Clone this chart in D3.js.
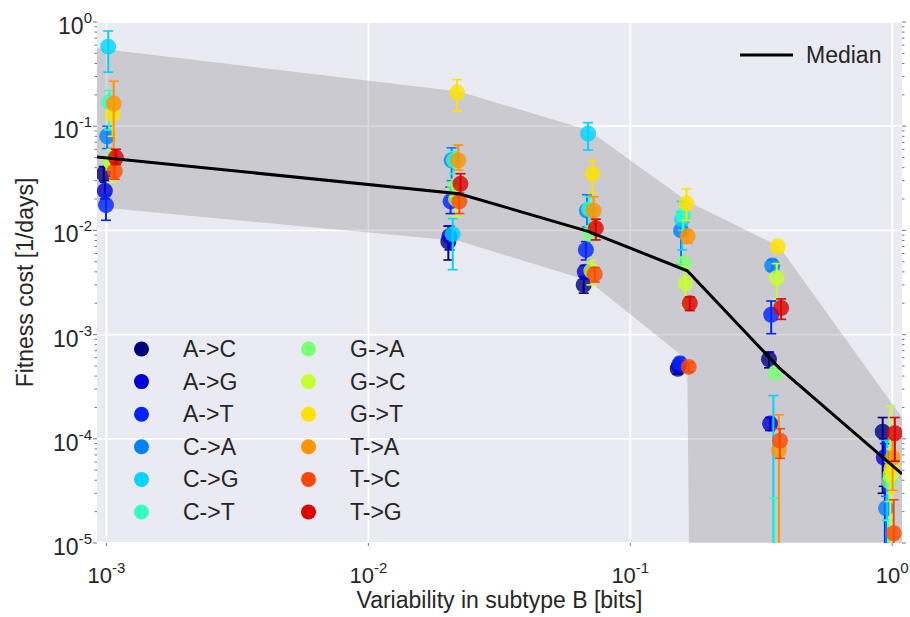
<!DOCTYPE html>
<html>
<head>
<meta charset="utf-8">
<script src="https://cdn.jsdelivr.net/npm/d3@7"></script>
<style>
  html, body { margin: 0; padding: 0; background: #fff; }
  svg text { font-family: "Liberation Sans", Arial, sans-serif; fill: #262626; }
</style>
</head>
<body>
<div id="chart"></div>
<script>
// Fitness cost vs variability, by mutation type (log-log)
const mutTypes = ['A->C', 'A->G', 'A->T', 'C->A', 'C->G', 'C->T',
                  'G->A', 'G->C', 'G->T', 'T->A', 'T->C', 'T->G'];
const mutColors = ['#000080', '#0000d5', '#0024ff', '#0080ff', '#00d4ff', '#33ffc4',
                   '#7cff79', '#c4ff33', '#ffe200', '#ff9400', '#ff4700', '#dd0000'];

// variability bins (x) for the points
const binX = [0.00103, 0.0213, 0.070, 0.160, 0.357, 0.97];

// mean fitness cost per mutation type, one value per bin
const costMean = [
  [0.035, 0.0078, 0.0030, 0.00047, 0.00058, 0.000117],
  [0.024, 0.0088, 0.0040, 0.00050, 0.00014, 0.000066],
  [0.0175, 0.019, 0.0065, 0.00053, 0.00155, 0.000007],
  [0.080, 0.047, 0.0155, 0.0100, 0.0046, 0.0000215],
  [0.58, 0.0092, 0.085, 0.0128, 0.000005, 0.000005],
  [0.17, 0.047, 0.016, 0.014, 0.000003, 0.000004],
  [0.046, 0.026, 0.0092, 0.0048, 0.00043, 0.000039],
  [0.044, 0.020, 0.0041, 0.0031, 0.0035, 0.000045],
  [0.13, 0.21, 0.035, 0.0182, 0.0070, 0.000052],
  [0.165, 0.047, 0.0155, 0.0088, 0.000078, 0.000066],
  [0.037, 0.019, 0.0038, 0.00049, 0.000096, 0.0000124],
  [0.050, 0.028, 0.0105, 0.0020, 0.0018, 0.000113]
];
const costLow = [
  [0.030, 0.0052, 0.0025, 0.00042, 0.00048, 0.000030],
  [0.020, 0.0065, 0.0034, 0.00045, 0.00012, 0.000035],
  [0.0125, 0.0145, 0.0052, 0.00047, 0.00102, 0],
  [0.061, 0.030, 0.0108, 0.0047, 0.0041, 0],
  [0.33, 0.0042, 0.059, 0.0065, 0, 0.0000165],
  [0.092, 0.035, 0.011, 0.010, 0, 0],
  [0.038, 0.021, 0.0080, 0.0042, 0.00039, 0.000025],
  [0.029, 0.0135, 0.0030, 0.0018, 0.0022, 0],
  [0.08, 0.14, 0.0226, 0.0125, 0.0064, 0.000030],
  [0.032, 0.038, 0.0108, 0.0075, 0, 0.000032],
  [0.031, 0.0145, 0.0032, 0.00044, 0.000065, 0],
  [0.043, 0.022, 0.0081, 0.0017, 0.0014, 0.000061]
];
const costHigh = [
  [0.041, 0.011, 0.0036, 0.00052, 0.00068, 0.00016],
  [0.029, 0.011, 0.0046, 0.00056, 0.00016, 0.000100],
  [0.022, 0.026, 0.0078, 0.00060, 0.0021, 0.000090],
  [0.10, 0.062, 0.022, 0.015, 0.0052, 0.000028],
  [0.82, 0.013, 0.108, 0.019, 0.00026, 0.000096],
  [0.22, 0.057, 0.021, 0.018, 0.000027, 0.0000165],
  [0.056, 0.031, 0.011, 0.0055, 0.00048, 0.00006],
  [0.060, 0.026, 0.0052, 0.0045, 0.0048, 0.000205],
  [0.175, 0.28, 0.047, 0.025, 0.0076, 0.00008],
  [0.27, 0.066, 0.021, 0.010, 0.00017, 0.000101],
  [0.045, 0.023, 0.0044, 0.00054, 0.000125, 0.000026],
  [0.060, 0.035, 0.0128, 0.0023, 0.0022, 0.00016]
];

// median and range band
const bandX = [0.00092, 0.0222, 0.069, 0.165, 0.37, 1.09];
const bandLow = [0.0168, 0.0079, 0.0033, 0.00057, 0, 0];
const bandHigh = [0.56, 0.215, 0.092, 0.019, 0.0070, 0.00016];
const medianY = [0.0507, 0.0225, 0.0098, 0.0041, 0.00048, 0.000046];

const xTicks = [1e-3, 1e-2, 1e-1, 1e0];
const yTicks = [1e0, 1e-1, 1e-2, 1e-3, 1e-4, 1e-5];

const W = 910, H = 617;
const margin = {top: 22, right: 8, bottom: 74, left: 97};
const width = W - margin.left - margin.right;
const height = H - margin.top - margin.bottom;

const svg = d3.select('#chart').append('svg')
  .attr('width', W)
  .attr('height', H);

const g = svg.append('g')
  .attr('transform', `translate(${margin.left},${margin.top})`);

const x = d3.scaleLog().domain([0.00092, 1.09]).range([0, width]);
const y = d3.scaleLog().domain([1e-5, 1e0]).range([height, 0]);
const floor = v => Math.max(v, 1e-100);

g.append('defs').append('clipPath').attr('id', 'clip')
  .append('rect').attr('width', width).attr('height', height);

// background
g.append('rect')
  .attr('width', width)
  .attr('height', height)
  .attr('fill', '#eaeaf2');

// grid lines
g.append('g')
  .selectAll('line.gx')
  .data(xTicks)
  .enter().append('line')
  .attr('x1', d => x(d)).attr('x2', d => x(d))
  .attr('y1', 0).attr('y2', height)
  .attr('stroke', '#fff').attr('stroke-width', 1.8);
g.append('g')
  .selectAll('line.gy')
  .data(yTicks)
  .enter().append('line')
  .attr('y1', d => y(d)).attr('y2', d => y(d))
  .attr('x1', 0).attr('x2', width)
  .attr('stroke', '#fff').attr('stroke-width', 1.8);

const plot = g.append('g').attr('clip-path', 'url(#clip)');

// band between low and high
const bandData = bandX.map((bx, i) => ({x: bx, lo: bandLow[i], hi: bandHigh[i]}));
plot.append('path')
  .datum(bandData)
  .attr('fill', '#808080')
  .attr('fill-opacity', 0.3)
  .attr('d', d3.area()
    .x(d => x(d.x))
    .y0(d => y(floor(d.lo)))
    .y1(d => y(d.hi)));

// points with error bars
mutTypes.forEach((name, i) => {
  const col = mutColors[i];
  const shift = Math.pow(10, (i - 5.5) * 0.0042);
  const pts = binX.map((bx, j) => ({
    x: bx * shift,
    v: costMean[i][j],
    lo: costLow[i][j],
    hi: costHigh[i][j]
  }));
  const grp = plot.append('g');
  pts.forEach(p => {
    const px = x(p.x);
    grp.append('line')
      .attr('x1', px).attr('x2', px)
      .attr('y1', y(floor(p.lo))).attr('y2', y(p.hi))
      .attr('stroke', col).attr('stroke-width', 2);
    [p.lo, p.hi].forEach(c => {
      grp.append('line')
        .attr('x1', px - 5).attr('x2', px + 5)
        .attr('y1', y(floor(c))).attr('y2', y(floor(c)))
        .attr('stroke', col).attr('stroke-width', 1.6);
    });
  });
  grp.selectAll('circle')
    .data(pts)
    .enter().append('circle')
    .attr('cx', d => x(d.x))
    .attr('cy', d => y(d.v))
    .attr('r', 8)
    .attr('fill', col)
    .attr('fill-opacity', 0.8);
});

// median line
plot.append('path')
  .datum(bandX.map((bx, i) => ({x: bx, y: medianY[i]})))
  .attr('fill', 'none')
  .attr('stroke', '#000')
  .attr('stroke-width', 3)
  .attr('d', d3.line().x(d => x(d.x)).y(d => y(d.y)));

// minor ticks on left/right, major ticks on bottom
const minor = [];
for (let e = -5; e < 0; e++) for (let k = 2; k < 10; k++) minor.push(k * Math.pow(10, e));
[[0, -2.5], [width, 2.5]].forEach(([x0, dx]) => {
  g.append('g').selectAll('line')
    .data(minor)
    .enter().append('line')
    .attr('x1', x0).attr('x2', x0 + dx)
    .attr('y1', d => y(d)).attr('y2', d => y(d))
    .attr('stroke', '#555').attr('stroke-width', 0.8);
  g.append('g').selectAll('line')
    .data(yTicks)
    .enter().append('line')
    .attr('x1', x0).attr('x2', x0 + dx * 1.6)
    .attr('y1', d => y(d)).attr('y2', d => y(d))
    .attr('stroke', '#555').attr('stroke-width', 0.8);
});
g.append('g').selectAll('line')
  .data(xTicks)
  .enter().append('line')
  .attr('x1', d => x(d)).attr('x2', d => x(d))
  .attr('y1', height).attr('y2', height + 3)
  .attr('stroke', '#555').attr('stroke-width', 0.8);

// tick labels (10^n)
const expOf = d => Math.round(Math.log10(d));
const yLab = g.append('g').selectAll('text')
  .data(yTicks)
  .enter().append('text')
  .attr('x', -5)
  .attr('y', d => y(d) + 12)
  .attr('text-anchor', 'end')
  .attr('font-size', '23px');
yLab.append('tspan').text('10');
yLab.append('tspan').attr('dy', -11).attr('font-size', '15px').text(d => expOf(d));

const xLab = g.append('g').selectAll('text')
  .data(xTicks)
  .enter().append('text')
  .attr('x', d => x(d))
  .attr('y', height + 40)
  .attr('text-anchor', 'middle')
  .attr('font-size', '22px');
xLab.append('tspan').text('10');
xLab.append('tspan').attr('dy', -10).attr('font-size', '15px').text(d => expOf(d));

// axis titles
svg.append('text')
  .attr('x', margin.left + width / 2)
  .attr('y', 608)
  .attr('text-anchor', 'middle')
  .attr('font-size', '23px')
  .text('Variability in subtype B [bits]');
svg.append('text')
  .attr('transform', `translate(33, ${margin.top + height / 2}) rotate(-90)`)
  .attr('text-anchor', 'middle')
  .attr('font-size', '23px')
  .text('Fitness cost [1/days]');

// median legend
svg.append('line')
  .attr('x1', 740).attr('x2', 793)
  .attr('y1', 55).attr('y2', 55)
  .attr('stroke', '#000').attr('stroke-width', 3);
svg.append('text')
  .attr('x', 806).attr('y', 63)
  .attr('font-size', '23px')
  .text('Median');

// mutation type legend, two columns
const leg = svg.append('g').selectAll('g')
  .data(mutTypes)
  .enter().append('g')
  .attr('transform', (d, i) => `translate(${i < 6 ? 141.5 : 308.5},${349 + (i % 6) * 32.6})`);
leg.append('circle')
  .attr('r', 7.5)
  .attr('fill', (d, i) => mutColors[i]);
leg.append('text')
  .attr('x', 41.5)
  .attr('y', 8)
  .attr('font-size', '23px')
  .text(d => d);
</script>
</body>
</html>
